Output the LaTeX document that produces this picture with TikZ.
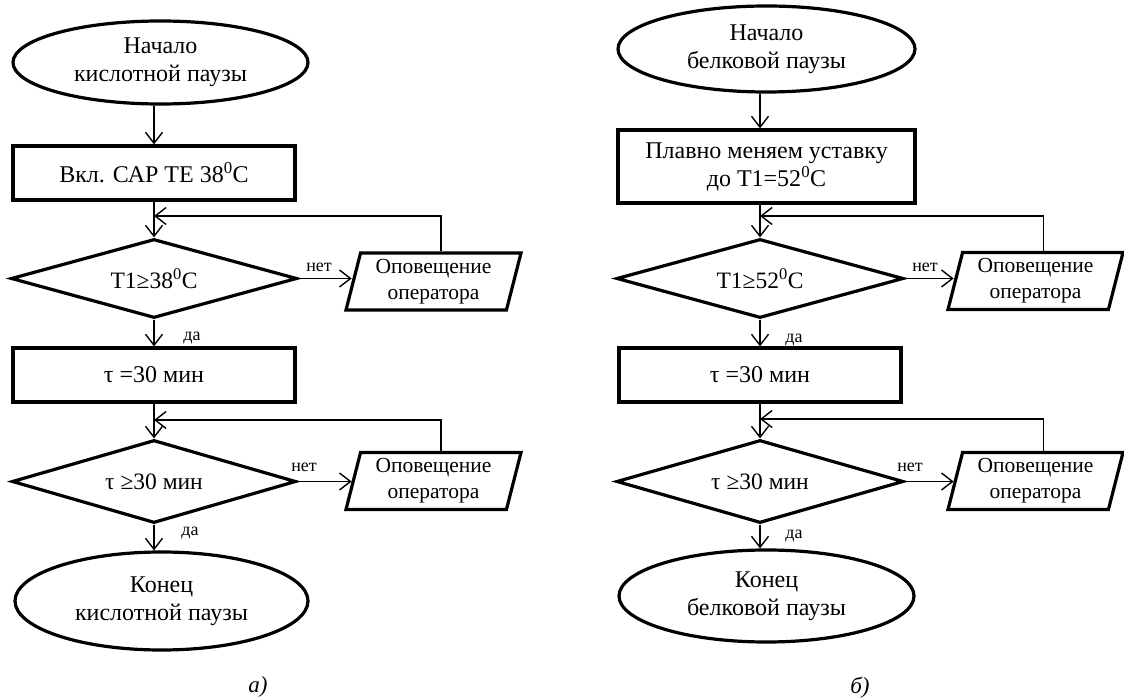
\documentclass[tikz,border=0pt]{standalone}
\usepackage{fontspec}
\setmainfont{Liberation Serif}
\usetikzlibrary{shapes.geometric,arrows.meta,calc}
\begin{document}
\begin{tikzpicture}[x=1pt,y=-1pt,
  shp/.style={draw, line width=3.2pt, inner sep=0pt, align=center, font=\fontsize{24}{28}\selectfont},
  term/.style={shp, ellipse},
  proc/.style={shp, rectangle},
  dec/.style={shp, diamond, font=\fontsize{23.5}{28}\selectfont},
  io/.style={shp, trapezium, trapezium left angle=72, trapezium right angle=108, trapezium stretches body, minimum width=175pt, minimum height=57pt, font=\fontsize{21.5}{26}\selectfont},
  arr/.style={line width=1.4pt, -{Straight Barb[length=11pt,width=17pt]}},
  lbl/.style={font=\fontsize{18}{20}\selectfont, inner sep=0pt},
  captxt/.style={font=\fontsize{23}{25}\selectfont\itshape, inner sep=0pt}]
\useasboundingbox (0,0) rectangle (1124,700);
% ---------- left chart ----------
\node[term, minimum width=295pt, minimum height=83pt] (s1) at (160.5,62.5) {Начало\\кислотной паузы};
\node[proc, minimum width=282pt, minimum height=54pt] (b1) at (154,173) {Вкл. САР ТЕ 38\textsuperscript{0}С};
\coordinate (m1) at (154,216);
\node[dec, aspect=3.6, minimum width=286pt, minimum height=79pt] (d1) at (154,278.5) {Т1≥38\textsuperscript{0}С};
\node[io] (p1) at (433.5,281.5) {Оповещение\\оператора};
\node[proc, minimum width=282pt, minimum height=54pt] (b2) at (154,375) {τ =30 мин};
\coordinate (m2) at (154,420);
\node[dec, aspect=3.4, minimum width=284pt, minimum height=83pt] (d2) at (154,481.5) {τ ≥30 мин};
\node[io] (p2) at (433.5,481) {Оповещение\\оператора};
\node[term, minimum width=293pt, minimum height=98pt] (e1) at (161.5,601) {Конец\\кислотной паузы};
\node[captxt] (ca) at (258,687) {а)};
\node[lbl] (n1) at (319,267) {нет};
\node[lbl] (n2) at (304,467) {нет};
\node[lbl] (y1) at (192,338) {да};
\node[lbl] (y2) at (190,533) {да};
\coordinate (p1t) at ($(p1.top left corner)!0.5!(p1.top right corner)$);
\coordinate (p1l) at ($(p1.top left corner)!0.5!(p1.bottom left corner)$);
\coordinate (p2t) at ($(p2.top left corner)!0.5!(p2.top right corner)$);
\coordinate (p2l) at ($(p2.top left corner)!0.5!(p2.bottom left corner)$);
\draw[arr] (s1.south -| b1.north) -- (b1.north);
\draw[arr] (b1.south) -- (d1.north);
\draw[arr] (d1.east) -- (d1.east -| p1l);
\draw[arr] (p1t) |- (m1);
\draw[arr] (d1.south) -- (b2.north);
\draw[arr] (b2.south) -- (d2.north);
\draw[arr] (d2.east) -- (d2.east -| p2l);
\draw[arr] (p2t) |- (m2);
\draw[arr] (d2.south) -- (d2.south |- e1.north);
% ---------- right chart ----------
\node[term, minimum width=297pt, minimum height=86pt] (s2) at (766.5,49) {Начало\\белковой паузы};
\node[proc, minimum width=297pt, minimum height=73pt] (b3) at (766.5,166.5) {Плавно меняем уставку\\до Т1=52\textsuperscript{0}С};
\coordinate (m3) at (760,216);
\node[dec, aspect=3.6, minimum width=287pt, minimum height=79pt] (d3) at (760,278.5) {Т1≥52\textsuperscript{0}С};
\node[io] (p3) at (1035.5,281) {Оповещение\\оператора};
\node[proc, minimum width=282pt, minimum height=54pt] (b4) at (760,375) {τ =30 мин};
\coordinate (m4) at (760,419);
\node[dec, aspect=3.4, minimum width=287pt, minimum height=83pt] (d4) at (760,481.5) {τ ≥30 мин};
\node[io] (p4) at (1035.5,481) {Оповещение\\оператора};
\node[term, minimum width=295pt, minimum height=92pt] (e2) at (766.5,596) {Конец\\белковой паузы};
\node[captxt] (cb) at (860,688) {б)};
\node[lbl] (n3) at (925,267) {нет};
\node[lbl] (n4) at (910,467) {нет};
\node[lbl] (y3) at (794,340) {да};
\node[lbl] (y4) at (794,536) {да};
\coordinate (p3t) at ($(p3.top left corner)!0.5!(p3.top right corner)$);
\coordinate (p3l) at ($(p3.top left corner)!0.5!(p3.bottom left corner)$);
\coordinate (p4t) at ($(p4.top left corner)!0.5!(p4.top right corner)$);
\coordinate (p4l) at ($(p4.top left corner)!0.5!(p4.bottom left corner)$);
\draw[arr] (s2.south -| d3.north) -- (b3.north -| d3.north);
\draw[arr] (b3.south -| d3.north) -- (d3.north);
\draw[arr] (d3.east) -- (d3.east -| p3l);
\draw[arr] (p3t) |- (m3);
\draw[arr] (d3.south) -- (b4.north);
\draw[arr] (b4.south) -- (d4.north);
\draw[arr] (d4.east) -- (d4.east -| p4l);
\draw[arr] (p4t) |- (m4);
\draw[arr] (d4.south) -- (d4.south |- e2.north);
\end{tikzpicture}
\end{document}
